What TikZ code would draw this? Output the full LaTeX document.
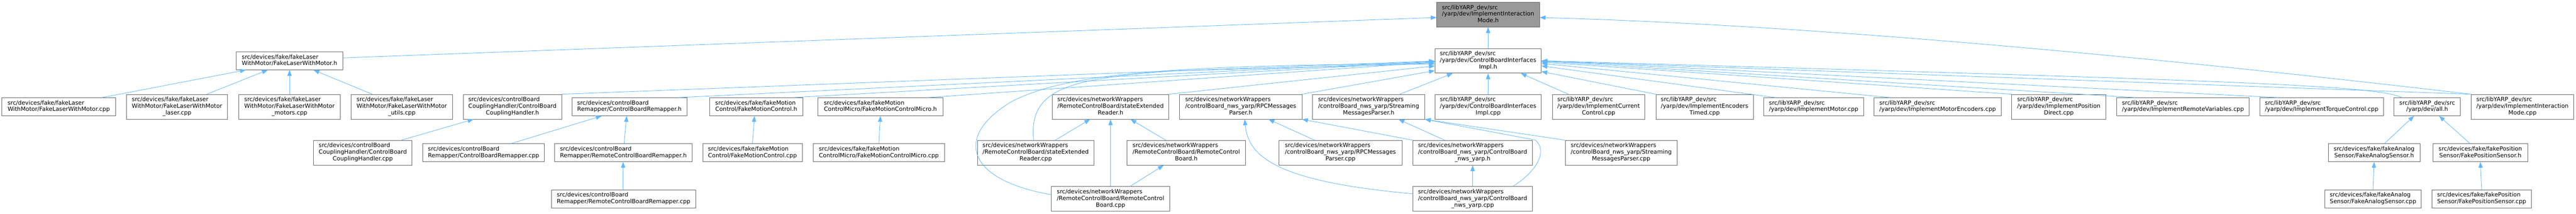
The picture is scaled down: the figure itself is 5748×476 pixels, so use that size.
\documentclass[tikz,border=0pt]{standalone}
\usepackage{fontspec}
\setmainfont{DejaVu Sans}
\usetikzlibrary{arrows.meta,calc}
\definecolor{edgeblue}{HTML}{63B8FF}
\definecolor{boxborder}{HTML}{666666}
\definecolor{topfill}{HTML}{999999}
\newcommand\boxlab[2]{\begin{tabular}{@{}l@{}}#1\\\multicolumn{1}{@{}c@{}}{#2}\end{tabular}}
\begin{document}
\begin{tikzpicture}[x=1pt,y=-1pt,
  box/.style={draw=boxborder, fill=white, line width=1pt, inner sep=0pt, font=\fontsize{12.9}{14.7}\selectfont},
  two/.style={box, minimum height=40},
  three/.style={box, minimum height=55},
  conn/.style={draw=edgeblue, line width=1pt, -{Triangle[length=13pt,width=9.5pt]}}
]
\useasboundingbox (0,0) rectangle (5748,476);
% row 0
\node[three, fill=topfill, minimum width=229] (T) at (3320.5,32.5) {\boxlab{src/libYARP\_dev/src\\/yarp/dev/ImplementInteraction}{Mode.h}};
% row 1
\node[two, minimum width=238] (L) at (646,135.5) {\boxlab{src/devices/fake/fakeLaser}{WithMotor/FakeLaserWithMotor.h}};
\node[three, minimum width=237] (C) at (3320.5,135.5) {\boxlab{src/libYARP\_dev/src\\/yarp/dev/ControlBoardInterfaces}{Impl.h}};
% row 2
\node[two, minimum width=254] (a1) at (131,238) {\boxlab{src/devices/fake/fakeLaser}{WithMotor/FakeLaserWithMotor.cpp}};
\node[three, minimum width=226] (a2) at (395,238) {\boxlab{src/devices/fake/fakeLaser\\WithMotor/FakeLaserWithMotor}{\_laser.cpp}};
\node[three, minimum width=226] (a3) at (646,238) {\boxlab{src/devices/fake/fakeLaser\\WithMotor/FakeLaserWithMotor}{\_motors.cpp}};
\node[three, minimum width=227] (a4) at (896.5,238) {\boxlab{src/devices/fake/fakeLaser\\WithMotor/FakeLaserWithMotor}{\_utils.cpp}};
\node[three, minimum width=219] (a5) at (1143.5,238) {\boxlab{src/devices/controlBoard\\CouplingHandler/ControlBoard}{CouplingHandler.h}};
\node[two, minimum width=257] (a6) at (1404.5,238) {\boxlab{src/devices/controlBoard}{Remapper/ControlBoardRemapper.h}};
\node[two, minimum width=207] (a7) at (1687.5,238) {\boxlab{src/devices/fake/fakeMotion}{Control/FakeMotionControl.h}};
\node[two, minimum width=279] (a8) at (1964.5,238) {\boxlab{src/devices/fake/fakeMotion}{ControlMicro/FakeMotionControlMicro.h}};
\node[three, minimum width=260] (a9) at (2478,238) {\boxlab{src/devices/networkWrappers\\/RemoteControlBoard/stateExtended}{Reader.h}};
\node[three, minimum width=273] (a10) at (2768.5,238) {\boxlab{src/devices/networkWrappers\\/controlBoard\_nws\_yarp/RPCMessages}{Parser.h}};
\node[three, minimum width=250] (a11) at (3054,238) {\boxlab{src/devices/networkWrappers\\/controlBoard\_nws\_yarp/Streaming}{MessagesParser.h}};
\node[three, minimum width=237] (a12) at (3320.5,238) {\boxlab{src/libYARP\_dev/src\\/yarp/dev/ControlBoardInterfaces}{Impl.cpp}};
\node[three, minimum width=206] (a13) at (3567,238) {\boxlab{src/libYARP\_dev/src\\/yarp/dev/ImplementCurrent}{Control.cpp}};
\node[three, minimum width=217] (a14) at (3803.5,238) {\boxlab{src/libYARP\_dev/src\\/yarp/dev/ImplementEncoders}{Timed.cpp}};
\node[two, minimum width=222] (a15) at (4047,238) {\boxlab{src/libYARP\_dev/src}{/yarp/dev/ImplementMotor.cpp}};
\node[two, minimum width=283] (a16) at (4323.5,238) {\boxlab{src/libYARP\_dev/src}{/yarp/dev/ImplementMotorEncoders.cpp}};
\node[three, minimum width=210] (a17) at (4594,238) {\boxlab{src/libYARP\_dev/src\\/yarp/dev/ImplementPosition}{Direct.cpp}};
\node[two, minimum width=296] (a18) at (4871,238) {\boxlab{src/libYARP\_dev/src}{/yarp/dev/ImplementRemoteVariables.cpp}};
\node[two, minimum width=275] (a19) at (5180.5,238) {\boxlab{src/libYARP\_dev/src}{/yarp/dev/ImplementTorqueControl.cpp}};
\node[two, minimum width=148] (a20) at (5416,238) {\boxlab{src/libYARP\_dev/src}{/yarp/dev/all.h}};
\node[three, minimum width=229] (a21) at (5628.5,238) {\boxlab{src/libYARP\_dev/src\\/yarp/dev/ImplementInteraction}{Mode.cpp}};
% row 3
\node[three, minimum width=219] (b1) at (809.5,340.5) {\boxlab{src/devices/controlBoard\\CouplingHandler/ControlBoard}{CouplingHandler.cpp}};
\node[two, minimum width=272] (b2) at (1079,340.5) {\boxlab{src/devices/controlBoard}{Remapper/ControlBoardRemapper.cpp}};
\node[two, minimum width=306] (b3) at (1391,340.5) {\boxlab{src/devices/controlBoard}{Remapper/RemoteControlBoardRemapper.h}};
\node[two, minimum width=222] (b4) at (1679,340.5) {\boxlab{src/devices/fake/fakeMotion}{Control/FakeMotionControl.cpp}};
\node[two, minimum width=294] (b5) at (1961,340.5) {\boxlab{src/devices/fake/fakeMotion}{ControlMicro/FakeMotionControlMicro.cpp}};
\node[three, minimum width=260] (b6) at (2311,340.5) {\boxlab{src/devices/networkWrappers\\/RemoteControlBoard/stateExtended}{Reader.cpp}};
\node[three, minimum width=264] (b7) at (2647,340.5) {\boxlab{src/devices/networkWrappers\\/RemoteControlBoard/RemoteControl}{Board.h}};
\node[three, minimum width=274] (b8) at (2991,340.5) {\boxlab{src/devices/networkWrappers\\/controlBoard\_nws\_yarp/RPCMessages}{Parser.cpp}};
\node[three, minimum width=266] (b9) at (3286,340.5) {\boxlab{src/devices/networkWrappers\\/controlBoard\_nws\_yarp/ControlBoard}{\_nws\_yarp.h}};
\node[three, minimum width=249] (b10) at (3617.5,340.5) {\boxlab{src/devices/networkWrappers\\/controlBoard\_nws\_yarp/Streaming}{MessagesParser.cpp}};
\node[two, minimum width=205] (b11) at (5297.5,340.5) {\boxlab{src/devices/fake/fakeAnalog}{Sensor/FakeAnalogSensor.h}};
\node[two, minimum width=211] (b12) at (5534.5,340.5) {\boxlab{src/devices/fake/fakePosition}{Sensor/FakePositionSensor.h}};
% row 4
\node[two, minimum width=323] (c1) at (1391.5,443.5) {\boxlab{src/devices/controlBoard}{Remapper/RemoteControlBoardRemapper.cpp}};
\node[three, minimum width=264] (c2) at (2478,443.5) {\boxlab{src/devices/networkWrappers\\/RemoteControlBoard/RemoteControl}{Board.cpp}};
\node[three, minimum width=266] (c3) at (3286,443.5) {\boxlab{src/devices/networkWrappers\\/controlBoard\_nws\_yarp/ControlBoard}{\_nws\_yarp.cpp}};
\node[two, minimum width=214] (c4) at (5295,443.5) {\boxlab{src/devices/fake/fakeAnalog}{Sensor/FakeAnalogSensor.cpp}};
\node[two, minimum width=221] (c5) at (5537.5,443.5) {\boxlab{src/devices/fake/fakePosition}{Sensor/FakePositionSensor.cpp}};
% edges to T
\draw[conn] (C.north) -- (T.south);
\draw[conn] ($(L.east)+(0,-6.5)$) -- ($(T.west)+(0,6.5)$);
\draw[conn] (a21.north west) .. controls (4700,115) and (4000,55) .. ($(T.east)+(0,6.5)$);
% edges to L
\draw[conn] ($(a1.north west)+(224,0)$) -- ($(L.south west)+(22,0)$);
\draw[conn] ($(a2.north west)+(180,0)$) -- ($(L.south west)+(71,0)$);
\draw[conn] (a3.north) -- (L.south);
\draw[conn] ($(a4.north west)+(48,0)$) -- ($(L.south west)+(173,0)$);
% edges to C
\draw[conn] (a5.north east) -- ($(C.west)+(0,0.5)$);
\draw[conn] ($(a6.north west)+(238,0)$) -- ($(C.west)+(0,1)$);
\draw[conn] ($(a7.north west)+(186,0)$) -- ($(C.west)+(0,2)$);
\draw[conn] ($(a8.north west)+(245,0)$) -- ($(C.west)+(0,3)$);
\draw[conn] (a9.north east) -- ($(C.west)+(0,11.5)$);
\draw[conn] (a10.north east) -- ($(C.west)+(0,22)$);
\draw[conn] ($(a11.north west)+(195,0)$) -- ($(C.south west)+(40,0)$);
\draw[conn] (a12.north) -- (C.south);
\draw[conn] ($(a13.north west)+(36,0)$) -- ($(C.south west)+(192,0)$);
\draw[conn] (a14.north west) -- ($(C.east)+(0,24)$);
\draw[conn] ($(a15.north west)+(26,0)$) -- ($(C.east)+(0,11.5)$);
\draw[conn] ($(a16.north west)+(36,0)$) -- ($(C.east)+(0,6)$);
\draw[conn] (a17.north west) -- ($(C.east)+(0,3)$);
\draw[conn] ($(a18.north west)+(42,0)$) -- ($(C.east)+(0,1)$);
\draw[conn] ($(a19.north west)+(41,0)$) -- ($(C.east)+(0,0)$);
\draw[conn] ($(a20.north west)+(18,0)$) .. controls (5300,190) and (5000,180) .. ($(C.east)+(0,0)$);
\draw[conn] (a21.north west) -- ($(C.east)+(0,0.5)$);
\draw[conn] ($(b6.north west)+(126,0)$) .. controls (2295,200) and (2380,175) .. (2620,158) -- ($(C.west)+(0,6.5)$);
\draw[conn] ($(c2.west)+(0,-9.5)$) .. controls (2150,400) and (2130,300) .. (2260,225) .. controls (2380,165) and (2600,145) .. ($(C.west)+(0,6.5)$);
% lower edges
\draw[conn] ($(b1.north west)+(196,0)$) -- ($(a5.south west)+(23,0)$);
\draw[conn] ($(b2.north west)+(198,0)$) -- ($(a6.south west)+(67,0)$);
\draw[conn] ($(b3.north west)+(155,0)$) -- ($(a6.south west)+(123,0)$);
\draw[conn] ($(c1.north west)+(161,0)$) -- ($(b3.south west)+(153,0)$);
\draw[conn] (b4.north) -- ($(a7.south west)+(100,0)$);
\draw[conn] (b5.north) -- (a8.south);
\draw[conn] ($(b6.north west)+(174,0)$) -- ($(a9.south west)+(85,0)$);
\draw[conn] ($(b7.north west)+(87,0)$) -- ($(a9.south west)+(175,0)$);
\draw[conn] (c2.north) -- (a9.south);
\draw[conn] ($(c2.north west)+(176,0)$) -- ($(b7.south west)+(82,0)$);
\draw[conn] ($(b8.north west)+(80,0)$) -- ($(a10.south west)+(199,0)$);
\draw[conn] (b9.north west) -- (a10.south east);
\draw[conn] ($(b9.north west)+(71,0)$) -- ($(a11.south west)+(192,0)$);
\draw[conn] (c3.north) -- (b9.south);
\draw[conn] ($(c3.west)+(0,-11.5)$) .. controls (2850,405) and (2785,350) .. ($(a10.south west)+(146,0)$);
\draw[conn] ($(c3.north west)+(223,0)$) .. controls (3440,375) and (3450,330) .. (3425,312) -- (a11.south east);
\draw[conn] (b10.north west) -- (a11.south east);
\draw[conn] ($(b11.north west)+(126,0)$) -- ($(a20.south west)+(45,0)$);
\draw[conn] ($(b12.north west)+(83,0)$) -- ($(a20.south west)+(101,0)$);
\draw[conn] (c4.north) -- (b11.south);
\draw[conn] (c5.north) -- (b12.south);
\end{tikzpicture}
\end{document}
